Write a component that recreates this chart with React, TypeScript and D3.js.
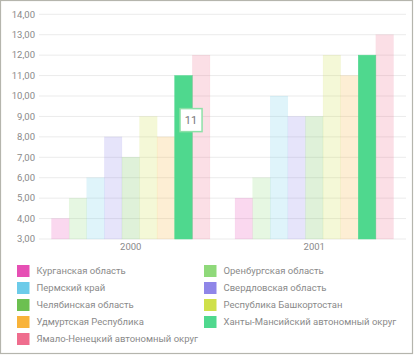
import React from "react";
import * as d3 from "d3";

const years = ["2000", "2001"];
const regions = [
  "Курганская область",
  "Оренбургская область",
  "Пермский край",
  "Свердловская область",
  "Челябинская область",
  "Республика Башкортостан",
  "Удмуртская Республика",
  "Ханты-Мансийский автономный округ",
  "Ямало-Ненецкий автономный округ",
];
const colors = [
  "#e64fb4",
  "#8fd97a",
  "#6ccbe9",
  "#8f86e8",
  "#6cc050",
  "#cfe04a",
  "#f8b33a",
  "#4fd88e",
  "#ef6d8e",
];
const values2000 = [4, 5, 6, 8, 7, 9, 8, 11, 12];
const values2001 = [5, 6, 10, 9, 9, 12, 11, 12, 13];
const yTicks = [3, 4, 5, 6, 7, 8, 9, 10, 11, 12, 13, 14];
const highlighted = 7;
const tooltipText = "11";

export default function App() {
  const W = 415, H = 355;
  const left = 39, right = 406, top = 14.3, bottom = 239;
  const x = d3.scaleBand<string>().domain(years).range([left, right]).paddingInner(0).paddingOuter(0);
  const y = d3.scaleLinear().domain([3, 14]).range([bottom, top]);
  const barW = 17.6;
  const groupW = barW * regions.length;
  const series = [values2000, values2001];
  const fmt = (v: number) => v.toFixed(2).replace(".", ",");
  const font = "Roboto, 'Noto Sans', sans-serif";

  const tipBarX = x("2000")! + x.bandwidth() / 2 - groupW / 2 + highlighted * barW;

  return (
    <div style={{ position: "fixed", left: 0, top: 0 }}>
      <svg width={W} height={H} style={{ display: "block" }}>
        <rect x={0} y={0} width={W} height={H} fill="#fff" />
        <rect x={0.5} y={0.5} width={412} height={353} fill="#fff" stroke="#b5b5ad" strokeWidth={1.2} />
        {yTicks.map((t) => (
          <g key={t}>
            <line x1={left} x2={right} y1={y(t)} y2={y(t)} stroke="#ebebeb" strokeWidth={1} />
            <text x={35} y={y(t)} dy="0.35em" textAnchor="end" fontFamily={font} fontSize={9.5} fill="#8a8a8a">
              {fmt(t)}
            </text>
          </g>
        ))}
        {years.map((yr, gi) => {
          const cx = x(yr)! + x.bandwidth() / 2;
          const x0 = cx - groupW / 2;
          return (
            <g key={yr}>
              {series[gi].map((v, i) => (
                <rect
                  key={i}
                  x={x0 + i * barW}
                  y={y(v)}
                  width={barW}
                  height={y(3) - y(v)}
                  fill={colors[i]}
                  fillOpacity={i === highlighted ? 1 : 0.22}
                  stroke={colors[i]}
                  strokeOpacity={i === highlighted ? 1 : 0.1}
                  strokeWidth={0.5}
                />
              ))}
              <text x={cx} y={247} dy="0.35em" textAnchor="middle" fontFamily={font} fontSize={9.5} fill="#8a8a8a">
                {yr}
              </text>
            </g>
          );
        })}
        <g transform={`translate(${tipBarX + barW / 2 + 7.5},${y(8.82)})`}>
          <rect x={-11} y={-11.5} width={22} height={23} fill="#fff" stroke="#8ee0a8" strokeWidth={1.5} />
          <text x={0} y={0} dy="0.35em" textAnchor="middle" fontFamily={font} fontSize={11} fill="#777">
            {tooltipText}
          </text>
        </g>
        {regions.map((r, i) => {
          const col = i % 2;
          const row = Math.floor(i / 2);
          const lx = col === 0 ? 17 : 204;
          const ly = 271 + row * 17;
          return (
            <g key={r}>
              <rect x={lx} y={ly - 6} width={12.5} height={12} fill={colors[i]} />
              <text x={lx + 19.5} y={ly} dy="0.35em" fontFamily={font} fontSize={9.5} fill="#8a8a8a">
                {r}
              </text>
            </g>
          );
        })}
      </svg>
    </div>
  );
}
